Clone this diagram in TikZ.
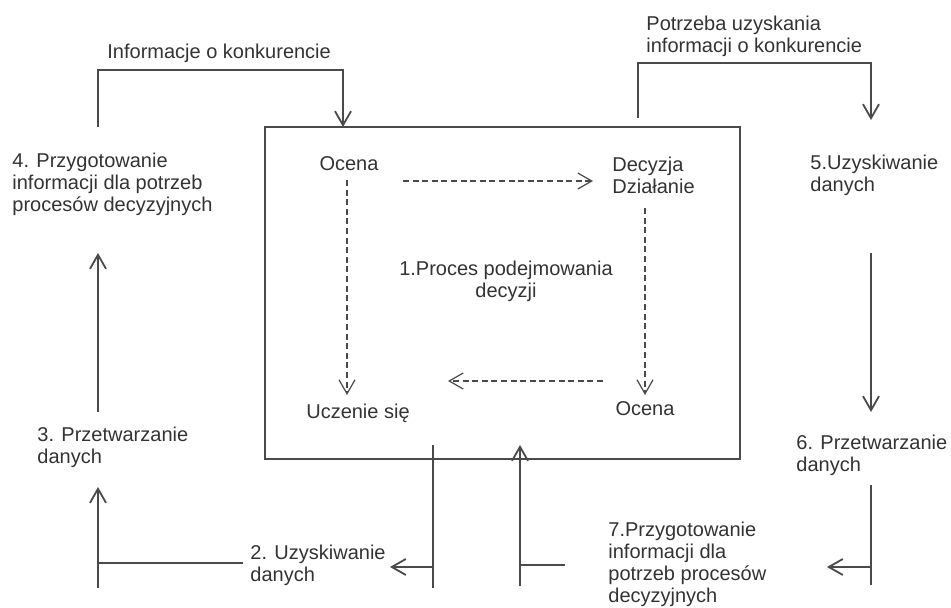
\documentclass[tikz,border=0pt]{standalone}
\usepackage{fontspec}
\setmainfont{Liberation Sans}
\usepackage{tikz}
\usetikzlibrary{positioning,arrows.meta}
\definecolor{ink}{HTML}{333333}
\definecolor{wirecol}{HTML}{4A4A4A}
\tikzstyle{stage} = [text=ink, align=left, anchor=west, inner sep=0pt, font=\fontsize{10}{11}\selectfont]
\tikzstyle{phase} = [text=ink, align=left, inner sep=0pt, font=\fontsize{10}{11}\selectfont]
\tikzstyle{procbox} = [draw=wirecol, line width=0.9pt, minimum width=237.5pt, minimum height=166pt, inner sep=0pt]
\tikzstyle{line} = [draw=wirecol, line width=0.9pt, -{Straight Barb[length=7pt,width=8pt]}]
\tikzstyle{stub} = [draw=wirecol, line width=0.9pt]
\tikzstyle{dline} = [draw=wirecol, line width=0.6pt, dash pattern=on 3pt off 1.8pt, -{Straight Barb[length=7pt,width=8pt]}]

\begin{document}
\begin{tikzpicture}[x=0.5pt, y=-0.5pt]
    \useasboundingbox (0,0) rectangle (951,608);
    % Place nodes
    \node [procbox] (proc) at (502.5,293) {};
    \node [phase] (ocena1) at (349,164) {Ocena};
    \node [phase, anchor=west] (decyzja) at (612,175) {Decyzja\\Działanie};
    \node [phase, align=center] (proces) at (506,281) {1.Proces podejmowania\\decyzji};
    \node [phase] (uczenie) at (358,413) {Uczenie się};
    \node [phase] (ocena2) at (645,409) {Ocena};
    \node [stage] (info) at (107,53) {Informacje o konkurencie};
    \node [stage] (potrzeba) at (646,36.5) {Potrzeba uzyskania\\informacji o konkurencie};
    \node [stage] (step4) at (12,184) {4. Przygotowanie\\informacji dla potrzeb\\procesów decyzyjnych};
    \node [stage] (step3) at (37,447) {3. Przetwarzanie\\danych};
    \node [stage] (step2) at (250,565) {2. Uzyskiwanie\\danych};
    \node [stage] (step5) at (810,175) {5.Uzyskiwanie\\danych};
    \node [stage] (step6) at (796,455) {6. Przetwarzanie\\danych};
    \node [stage] (step7) at (608,564) {7.Przygotowanie\\informacji dla\\potrzeb procesów\\decyzyjnych};
    % Connector ends
    \coordinate (step4-top) at (98,127);
    \coordinate (proc-info) at (343,127);
    \coordinate (proc-need) at (638,118);
    \coordinate (step5-top) at (871,120);
    \coordinate (step5-out) at (871,253);
    \coordinate (step6-in) at (871,412);
    \coordinate (step6-out) at (871,485);
    \coordinate (step6-end) at (871,585);
    \coordinate (step7-in) at (827,567);
    \coordinate (step7-out) at (565,565);
    \coordinate (proc-back) at (520,445);
    \coordinate (back-end) at (520,586);
    \coordinate (proc-out) at (433,445);
    \coordinate (proc-out-end) at (433,588);
    \coordinate (step2-in) at (390,567);
    \coordinate (step2-out) at (243,563);
    \coordinate (step3-in) at (98,487);
    \coordinate (step3-end) at (98,588);
    \coordinate (step3-out) at (98,412);
    \coordinate (step4-in) at (98,253);
    \coordinate (ocena1-out) at (403,181);
    \coordinate (decyzja-in) at (593,181);
    \coordinate (ocena1-down) at (347,180);
    \coordinate (uczenie-in) at (347,395);
    \coordinate (decyzja-out) at (645,208);
    \coordinate (ocena2-in) at (645,395);
    \coordinate (ocena2-out) at (603,381);
    \coordinate (uczenie-side) at (448,381);
    % Draw edges
    \path [line] (step4-top) |- ([yshift=-3.8pt]info.south) -| (proc-info);
    \path [line] (proc-need) |- ([yshift=-3pt]potrzeba.south) -| (step5-top);
    \path [line] (step5-out) -- (step6-in);
    \path [stub] (step6-out) -- (step6-end);
    \path [line] (step7-in -| step6-out) -- (step7-in);
    \path [line] (back-end) -- (proc-back);
    \path [stub] (back-end |- step7-out) -- (step7-out);
    \path [stub] (proc-out) -- (proc-out-end);
    \path [line] (proc-out |- step2-in) -- (step2-in);
    \path [stub] (step2-out) -- (step2-out -| step3-in);
    \path [line] (step3-end) -- (step3-in);
    \path [line] (step3-out) -- (step4-in);
    % Inside the decision process
    \path [dline] (ocena1-out) -- (decyzja-in);
    \path [dline] (ocena1-down) -- (uczenie-in);
    \path [dline] (decyzja-out) -- (ocena2-in);
    \path [dline] (ocena2-out) -- (uczenie-side);
\end{tikzpicture}
\end{document}
